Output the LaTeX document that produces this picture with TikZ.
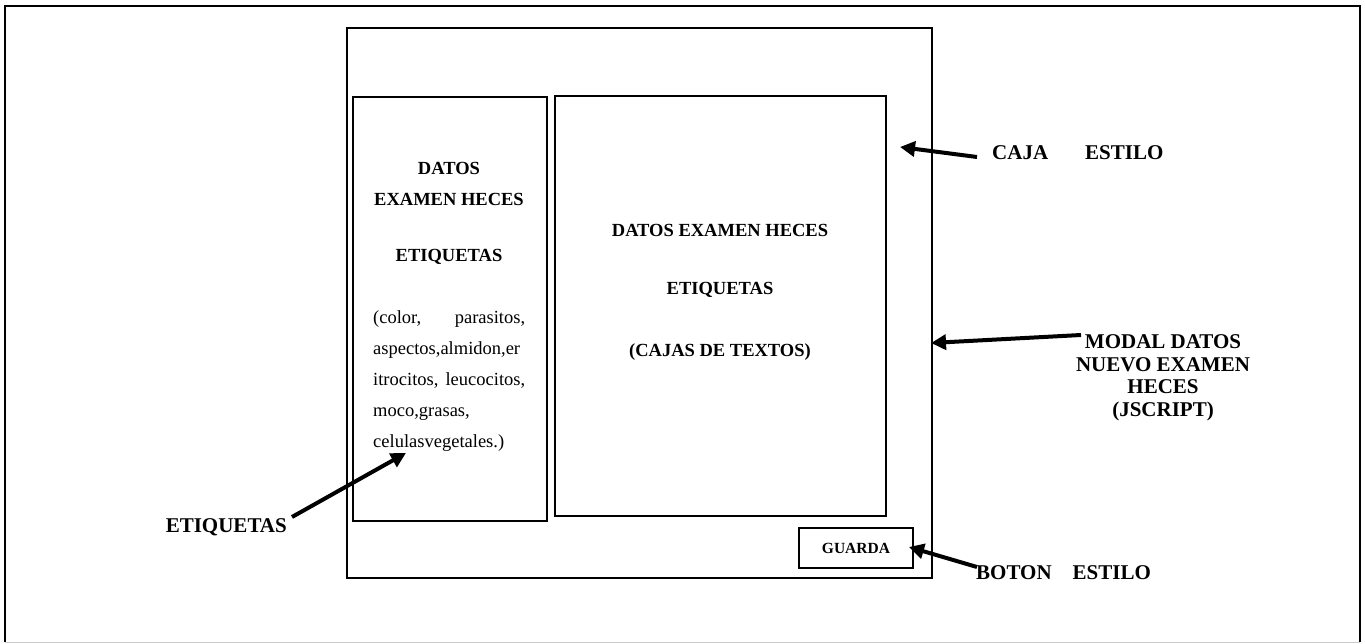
\documentclass[tikz,border=0pt]{standalone}
\usepackage{fontspec}
\setmainfont{Liberation Serif}
\usetikzlibrary{arrows.meta}
\begin{document}
\begin{tikzpicture}[x=1pt,y=-1pt,
  panel/.style={draw, line width=2.2pt, inner sep=0pt, minimum width=#1},
  head/.style={font=\fontsize{18.5}{20}\selectfont\bfseries, inner sep=0pt},
  callout/.style={font=\fontsize{21}{23}\selectfont\bfseries, inner sep=0pt, align=center},
  pointer/.style={line width=4pt, -{Triangle[length=15pt,width=15pt]}}
]
\useasboundingbox (0,0) rectangle (1365,644);
% page frame
\draw[line width=2.5pt] (5,642) -- (5,6) -- (1360,6) -- (1360,642);
\draw[gray!40, line width=1pt] (5,642.5) -- (1360,642.5);

% modal window and its panels
\node[panel=585pt, minimum height=550pt] (modal) at (639.5,303) {};
\node[panel=194pt, minimum height=424pt] (labels) at (450,309) {};
\node[panel=331pt, minimum height=420pt] (fields) at (720.5,306) {};
\node[panel=114pt, minimum height=40pt] (guarda) at (856,548)
  {\fontsize{15.5}{17}\selectfont\bfseries GUARDA};

% left panel text
\node[head] (l1) at (449,168) {DATOS};
\node[head] (l2) at (449,199) {EXAMEN HECES};
\node[head] (l3) at (449,257) {ETIQUETAS};
\node[inner sep=0pt, align=left, font=\fontsize{18.5}{31}\selectfont, anchor=north west] (list) at (373,310)
  {\makebox[152pt][s]{(color,\hfill parasitos,}\\
   \makebox[152pt][l]{aspectos,almidon,er}\\
   \makebox[152pt][s]{itrocitos, leucocitos,}\\
   \makebox[152pt][l]{moco,grasas,}\\
   \makebox[152pt][l]{celulasvegetales.)}};

% centre panel text
\node[head] (c1) at (720,230) {DATOS EXAMEN HECES};
\node[head] (c2) at (720,290) {ETIQUETAS};
\node[head] (c3) at (720,352) {(CAJAS DE TEXTOS)};

% callouts
\node[callout, anchor=west] (caja) at (992,153) {CAJA\hspace{37pt}ESTILO};
\node[callout] (modaltxt) at (1163,378) {MODAL DATOS\\[-0.5pt]NUEVO EXAMEN\\[-0.5pt]HECES\\[-0.5pt](JSCRIPT)};
\node[callout, anchor=east] (etiq) at (287,527) {ETIQUETAS};
\node[callout, anchor=west] (boton) at (976,573) {BOTON\hspace{21pt}ESTILO};

\coordinate (cajaTail) at (977,157);
\coordinate (cajaTip) at (900,147);
\coordinate (modalTail) at (1081,335);
\coordinate (modalTip) at (931,343);
\coordinate (etiqTail) at (292,517);
\coordinate (etiqTip) at (406,453);
\coordinate (botonTail) at (977,567);
\coordinate (botonTip) at (909,547);

\draw[pointer] (cajaTail) -- (cajaTip);
\draw[pointer] (modalTail) -- (modalTip);
\draw[pointer] (etiqTail) -- (etiqTip);
\draw[pointer] (botonTail) -- (botonTip);
\end{tikzpicture}
\end{document}
